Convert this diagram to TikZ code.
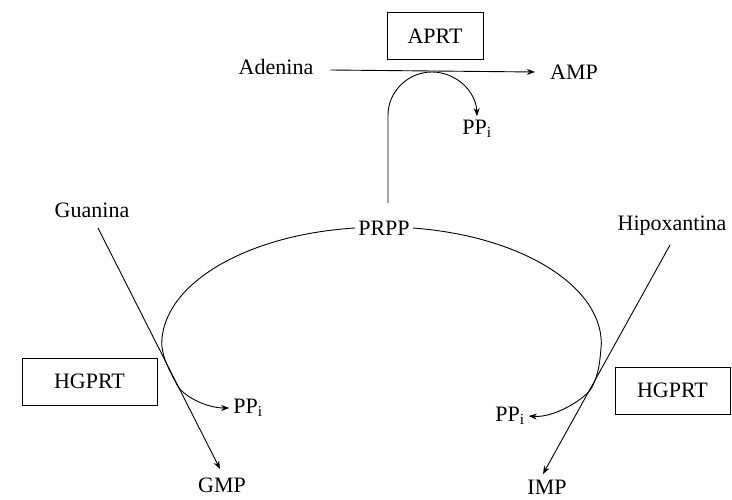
\documentclass[tikz,border=0pt]{standalone}
\usepackage{fontspec}
\setmainfont{Liberation Serif}
\usetikzlibrary{arrows.meta,calc}
\begin{document}
\begin{tikzpicture}[x=1pt,y=-1pt,
  lbl/.style={font=\fontsize{22}{26}\selectfont, inner sep=3pt},
  enzyme/.style={lbl, draw, line width=0.9pt, minimum height=47pt},
  pp/.style={lbl, inner sep=4pt},
  flow/.style={line width=0.9pt},
  tip/.style={-{Stealth[length=8pt,width=6pt]}},
]
\useasboundingbox (0,0) rectangle (732,500);

% enzymes
\node[enzyme, minimum width=96pt]  (aprt) at (435,36)      {APRT};
\node[enzyme, minimum width=135pt] (hgl)  at (89.5,381.5)  {HGPRT};
\node[enzyme, minimum width=115pt] (hgr)  at (672.5,390.5) {HGPRT};

% metabolites
\node[lbl] (aden) at (276,67)  {Adenina};
\node[lbl] (amp)  at (574,72)  {AMP};
\node[pp]  (ppa)  at (477,129) {PP\textsubscript{i}};
\node[lbl] (prpp) at (384,228) {PRPP};
\node[lbl] (gua)  at (92,210)  {Guanina};
\node[lbl] (hipo) at (672,226) {Hipoxantina};
\node[pp]  (ppl)  at (248,408) {PP\textsubscript{i}};
\node[pp]  (ppr)  at (510,416) {PP\textsubscript{i}};
\node[lbl] (gmp)  at (222,485) {GMP};
\node[lbl, inner sep=1pt] (imp) at (547,487) {IMP};

% line ends of the base reactions
\coordinate (g0) at (98,228);
\coordinate (g1) at (220,469);
\coordinate (h0) at (670,245);
\coordinate (h1) at (543,474);
\coordinate (up0) at (388,203);

% adenine -> AMP
\draw[flow,tip] ([shift={(14,3)}]aden.east) -- ([shift={(-12,0)}]amp.west);
% PRPP feeding the APRT reaction, releasing PPi
\draw[flow,tip] (up0) -- (388,115)
  .. controls (388,91.8) and (407.7,72) .. (432,72)
  .. controls (456.3,72) and (476,91.8) .. (ppa.north);

% guanine -> GMP and hypoxanthine -> IMP
\draw[flow,tip] (g0) -- (g1);
\draw[flow,tip] (h0) -- (h1);

% PRPP arcs into the HGPRT reactions
\draw[flow,tip] (prpp.west)
  arc[start angle=263.4, end angle=180, x radius=218.5, y radius=117]
  .. controls (163,360) and (170,371) .. (177.1,385)
  .. controls (182.1,395) and (205,408) .. (ppl.west);
\draw[flow,tip] (prpp.east)
  arc[start angle=277.9, end angle=360, x radius=218.5, y radius=117]
  .. controls (600,360) and (599.2,374) .. (591.5,388)
  .. controls (586,398) and (555,418) .. (ppr.east);
\end{tikzpicture}
\end{document}
